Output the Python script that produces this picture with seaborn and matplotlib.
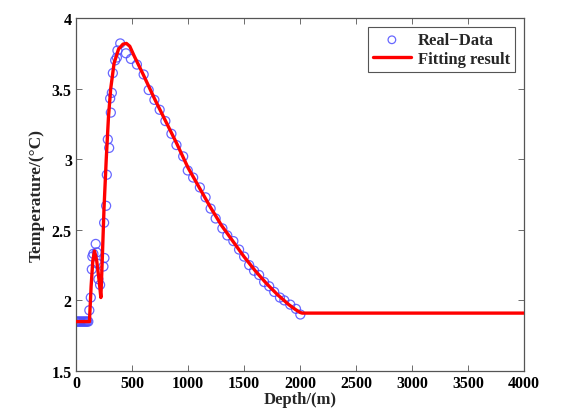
import matplotlib
matplotlib.use("Agg")
import matplotlib.pyplot as plt
import seaborn as sns
import numpy as np
import pandas as pd

# Real data (depth m, temperature °C)
real_depth = [0, 10, 20, 30, 40, 50, 60, 70, 80, 90, 100, 110,
              119, 132, 141, 146, 155, 176, 185, 191, 200, 215, 245, 254,
              251, 269, 275, 284, 296, 305, 311, 320, 329, 350, 365, 370,
              395, 446, 490, 544, 604, 649, 700, 747, 798, 852, 897, 957,
              998, 1046, 1106, 1157, 1202, 1247, 1307, 1351, 1405, 1456, 1501,
              1546, 1590, 1635, 1680, 1725, 1770, 1821, 1860, 1913, 1964, 2003]
real_temp = [1.85, 1.85, 1.85, 1.85, 1.85, 1.85, 1.85, 1.85, 1.85, 1.85, 1.85, 1.85,
             1.93, 2.02, 2.22, 2.31, 2.33, 2.40, 2.34, 2.26, 2.15, 2.11, 2.24, 2.30,
             2.55, 2.67, 2.89, 3.14, 3.08, 3.43, 3.33, 3.47, 3.61, 3.70, 3.72, 3.77,
             3.82, 3.75, 3.71, 3.67, 3.60, 3.49, 3.42, 3.35, 3.27, 3.18, 3.10, 3.02,
             2.92, 2.87, 2.80, 2.73, 2.65, 2.58, 2.51, 2.46, 2.42, 2.36, 2.31,
             2.25, 2.21, 2.18, 2.13, 2.10, 2.06, 2.02, 2.00, 1.97, 1.94, 1.90]

# Fitting result
fit_depth = [0, 120, 135, 150, 165, 185, 205, 222, 235, 250, 270, 290, 310, 340,
             380, 420, 450, 480, 520, 600, 700, 800, 900, 1000, 1100, 1200, 1300,
             1400, 1500, 1600, 1700, 1800, 1900, 1960, 2000, 2020, 4000]
fit_temp = [1.85, 1.85, 2.10, 2.28, 2.35, 2.28, 2.15, 2.02, 2.30, 2.65, 3.00, 3.30,
            3.50, 3.68, 3.78, 3.815, 3.82, 3.80, 3.73, 3.60, 3.43, 3.27, 3.11, 2.94,
            2.80, 2.66, 2.53, 2.42, 2.31, 2.21, 2.12, 2.04, 1.97, 1.935, 1.915, 1.91, 1.91]

x_ticks = [0, 500, 1000, 1500, 2000, 2500, 3000, 3500, 4000]
y_ticks = [1.5, 2, 2.5, 3, 3.5, 4]
y_tick_labels = ["1.5", "2", "2.5", "3", "3.5", "4"]

sns.set_style("white")
plt.rcParams['font.family'] = ['Liberation Serif', 'DejaVu Serif']
plt.rcParams['font.weight'] = 'bold'

fig = plt.figure(figsize=(5.67, 4.14), dpi=100)
ax = fig.add_axes([76/567, 1 - 372/414, (524-76)/567, (372-19)/414])

real_df = pd.DataFrame({"depth": real_depth, "temp": real_temp})
fit_df = pd.DataFrame({"depth": fit_depth, "temp": fit_temp})

sns.lineplot(data=fit_df, x="depth", y="temp", ax=ax, color="#ff0000",
             linewidth=2.4, sort=False, label="Fitting result", zorder=3)
sns.scatterplot(data=real_df, x="depth", y="temp", ax=ax, marker="o",
                facecolors="none", edgecolor="#4d4dff", linewidth=0.9, s=42,
                alpha=0.85, label="Real\u2212Data", zorder=2)

ax.set_xlim(0, 4000)
ax.set_ylim(1.5, 4)
ax.set_xticks(x_ticks)
ax.set_xticklabels([str(t) for t in x_ticks])
ax.set_yticks(y_ticks)
ax.set_yticklabels(y_tick_labels)
ax.tick_params(direction="in", length=4, width=0.6, colors="#555555",
               labelcolor="black", labelsize=11.5, top=True, right=True,
               bottom=True, left=True, pad=3)
for lab in ax.get_xticklabels() + ax.get_yticklabels():
    lab.set_fontweight("bold")
for s in ax.spines.values():
    s.set_color("#555555")
    s.set_linewidth(0.9)

ax.set_xlabel("Depth/(m)", fontsize=12, fontweight="bold", labelpad=0)
ax.set_ylabel("Temperature/(\u00b0C)", fontsize=12.5, fontweight="bold", labelpad=5)

handles, labels = ax.get_legend_handles_labels()
order = [1, 0]
leg = ax.legend([handles[i] for i in order], [labels[i] for i in order],
                loc="upper right", fontsize=12, frameon=True, fancybox=False,
                edgecolor="#555555", framealpha=1, borderpad=0.3,
                handlelength=2.3, labelspacing=0.15, borderaxespad=0.55,
                handletextpad=0.4)
leg.get_frame().set_linewidth(0.8)
for t in leg.get_texts():
    t.set_fontweight("bold")
leg.legend_handles[0].set_sizes([30])

fig.savefig("out.png", dpi=100)
